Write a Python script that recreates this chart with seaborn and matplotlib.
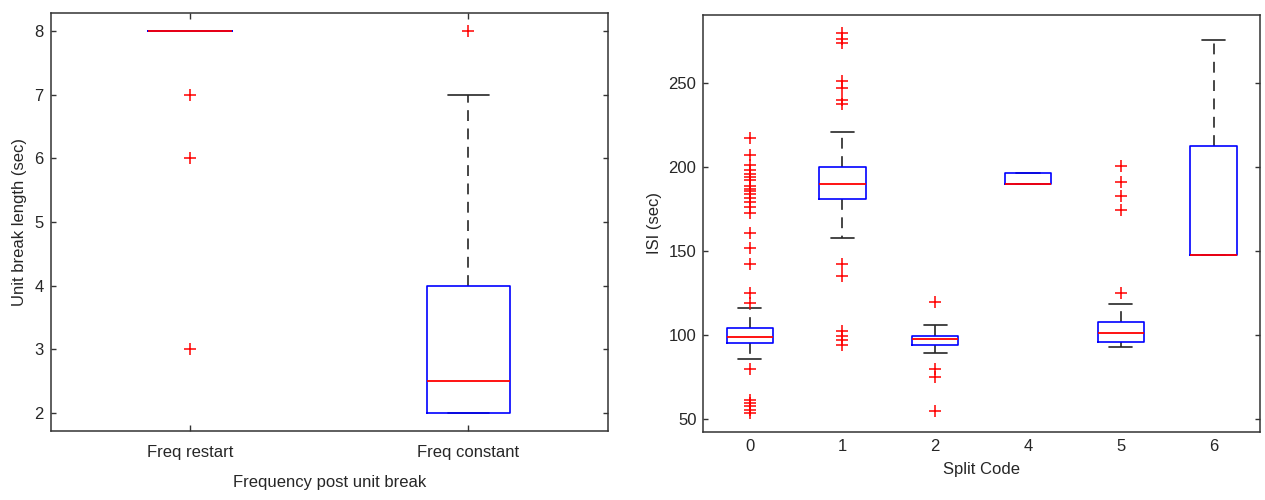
import matplotlib
matplotlib.use("Agg")
import matplotlib.pyplot as plt
import pandas as pd
import seaborn as sns

# ---- Left panel: unit break length by frequency behaviour ----
freq_groups = ["Freq restart", "Freq constant"]
freq_q1 = [8.0, 2.0]
freq_median = [8.0, 2.5]
freq_q3 = [8.0, 4.0]
freq_whislo = [8.0, 2.0]
freq_whishi = [8.0, 7.0]
freq_outliers = [[7.0, 6.0, 3.0], [8.0]]

# ---- Right panel: ISI by split code ----
split_codes = ["0", "1", "2", "4", "5", "6"]
isi_q1 = [95.4, 181.0, 94.2, 190.1, 96.0, 147.5]
isi_median = [99.0, 190.1, 97.6, 190.1, 101.4, 147.5]
isi_q3 = [104.4, 200.0, 99.6, 196.4, 107.5, 212.5]
isi_whislo = [85.5, 157.7, 89.1, 190.1, 92.9, 147.5]
isi_whishi = [115.9, 221.0, 106.2, 196.4, 118.5, 275.5]
isi_outliers = [
    [217.5, 207.0, 201.5, 198.5, 196.0, 194.0, 192.0, 189.0, 187.0, 185.5,
     184.0, 181.5, 179.0, 176.0, 172.5, 161.0, 152.0, 142.5, 125.0, 119.0,
     80.0, 61.5, 59.5, 57.5, 55.5, 53.5],
    [280.0, 276.5, 274.0, 251.0, 247.0, 240.0, 237.5, 142.5, 135.0,
     102.5, 99.5, 97.0, 94.0],
    [119.5, 80.0, 75.0, 55.0],
    [],
    [200.5, 191.0, 182.5, 174.5, 125.0],
    [],
]

BLUE = "#0000ff"
RED = "#ff0000"
DARK = "#262626"
FRAME = "#333333"

sns.set_theme(style="white")
plt.rcParams["font.family"] = ["Liberation Sans", "DejaVu Sans"]
plt.rcParams["text.color"] = DARK
plt.rcParams["axes.labelcolor"] = DARK
plt.rcParams["xtick.color"] = FRAME
plt.rcParams["ytick.color"] = FRAME
plt.rcParams["xtick.labelcolor"] = DARK
plt.rcParams["ytick.labelcolor"] = DARK


def draw_boxes(ax, groups, q1, med, q3, lo, hi, outliers, width):
    # outliers as red crosses on the categorical axis
    df = pd.DataFrame({
        "group": [g for g, vals in zip(groups, outliers) for _ in vals],
        "value": [v for vals in outliers for v in vals],
    })
    sns.stripplot(data=df, x="group", y="value", order=groups, jitter=False,
                  marker="+", color=RED, size=8, linewidth=1.1, ax=ax,
                  zorder=4)
    stats = [dict(q1=a, med=b, q3=c, whislo=d, whishi=e, fliers=[])
             for a, b, c, d, e in zip(q1, med, q3, lo, hi)]
    # whiskers and caps sit under the box; the median sits on top
    ax.bxp(stats, positions=list(range(len(groups))), widths=width,
           showfliers=False, manage_ticks=False,
           boxprops=dict(color=BLUE, linewidth=1.2, zorder=2.5),
           medianprops=dict(color=RED, linewidth=1.3, zorder=3),
           whiskerprops=dict(color=DARK, linewidth=1.2, zorder=1.5,
                             linestyle=(0, (6.5, 4.5))),
           capprops=dict(color=DARK, linewidth=1.2, zorder=1.5))


def style_axes(ax, xticklen):
    for s in ax.spines.values():
        s.set_visible(True)
        s.set_color(FRAME)
        s.set_linewidth(1.1)
    ax.tick_params(axis="both", direction="in", labelsize=12,
                   top=True, right=True, bottom=True, left=True,
                   width=1.0)
    ax.tick_params(axis="y", length=3.8, pad=5)
    ax.tick_params(axis="x", length=xticklen)
    ax.grid(False)


fig = plt.figure(figsize=(12.65, 5.0), dpi=100)

ax1 = fig.add_axes([0.0401, 0.138, 0.4403, 0.836])
draw_boxes(ax1, freq_groups, freq_q1, freq_median, freq_q3, freq_whislo,
           freq_whishi, freq_outliers, 0.3)
ax1.set_xlim(-0.5, 1.5)
ax1.set_ylim(1.71, 8.29)
ax1.set_yticks([2, 3, 4, 5, 6, 7, 8])
ax1.set_xticks([0, 1])
ax1.set_xticklabels(freq_groups)
style_axes(ax1, 4.0)
ax1.tick_params(axis="x", pad=10)
ax1.set_xlabel("Frequency post unit break", fontsize=12, labelpad=11)
ax1.set_ylabel("Unit break length (sec)", fontsize=12, labelpad=5)

ax2 = fig.add_axes([0.556, 0.136, 0.440, 0.834])
draw_boxes(ax2, split_codes, isi_q1, isi_median, isi_q3, isi_whislo,
           isi_whishi, isi_outliers, 0.5)
ax2.set_xlim(-0.5, 5.5)
ax2.set_ylim(42.3, 290.5)
ax2.set_yticks([50, 100, 150, 200, 250])
ax2.set_xticks(range(len(split_codes)))
ax2.set_xticklabels(split_codes)
style_axes(ax2, 0)
ax2.tick_params(axis="x", pad=5)
ax2.set_xlabel("Split Code", fontsize=12, labelpad=6)
ax2.set_ylabel("ISI (sec)", fontsize=12, labelpad=5)

fig.savefig("out.png", dpi=100, facecolor="white")
